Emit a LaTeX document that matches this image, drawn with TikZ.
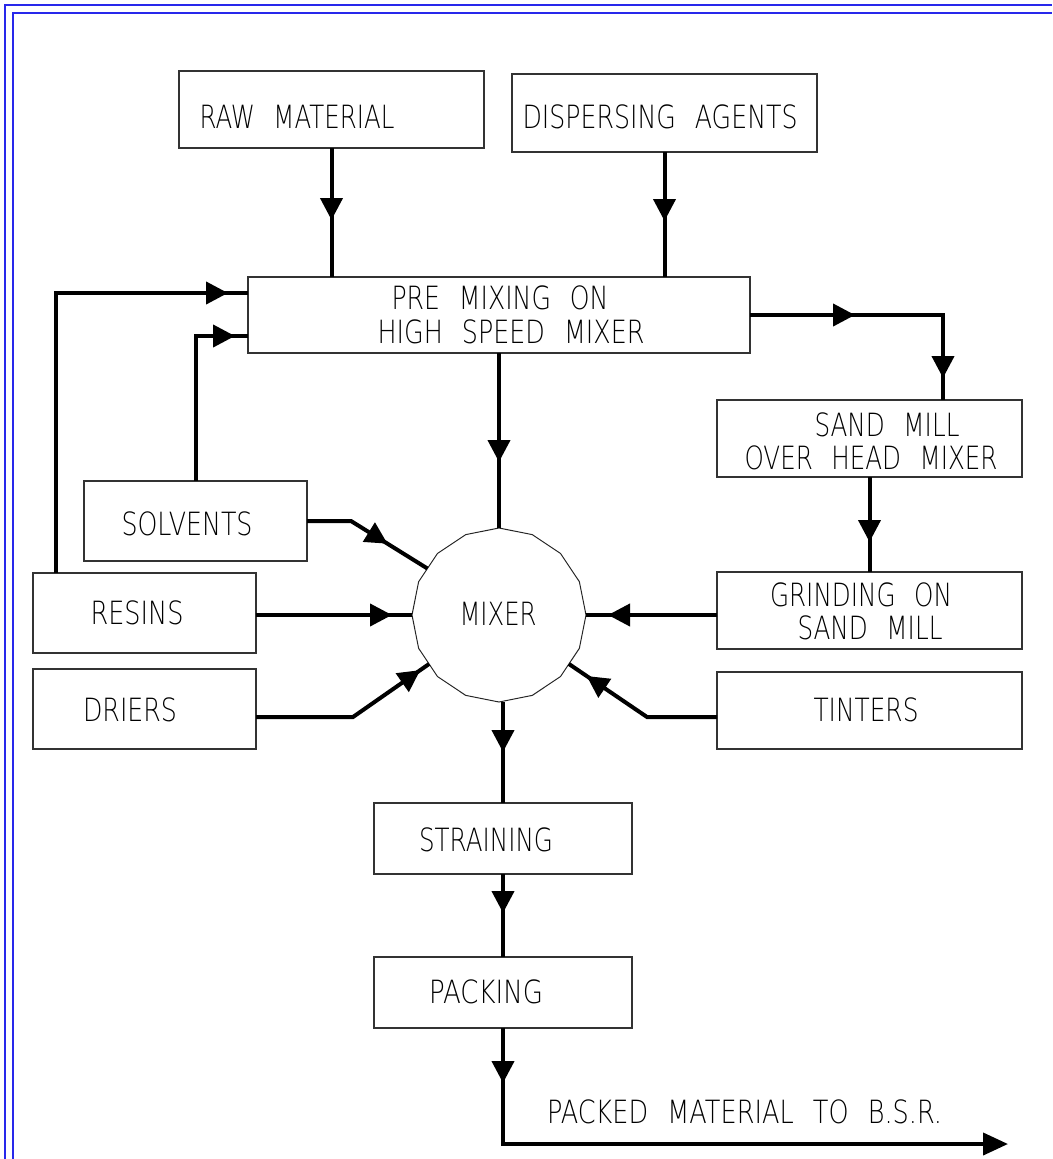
\documentclass[tikz,border=0pt]{standalone}
\usepackage{fontspec}
\usepackage{graphicx}
\newfontfamily\cadfont{DejaVu Sans ExtraLight}
\usetikzlibrary{arrows.meta,decorations.markings,shapes.geometric,calc}

\definecolor{framecol}{RGB}{40,40,235}
% condensed plotter-style lettering: text squeezed to a given width
\newcommand\cadtext[2]{\resizebox{#1pt}{\height}{\cadfont\fontsize{32}{32}\selectfont #2}}
\newcommand\wg{\hspace{0.75em}}

\tikzset{
  stepbox/.style={draw=black!80, line width=1.4pt, rectangle, inner sep=0pt, outer sep=0pt},
  lbl/.style={inner sep=0pt, outer sep=0pt},
  flow/.style={line width=4pt, black},
  headat/.style={postaction={decorate, decoration={markings,
      mark=at position #1pt with {\arrow{Triangle[length=22pt,width=22pt]}}}}},
  frameline/.style={line width=1.5pt, draw=framecol},
}

\begin{document}
\begin{tikzpicture}[x=1pt, y=-1pt]
\useasboundingbox (0,0) rectangle (1052,1159);

% drawing frame (double line, top and left)
\draw[frameline] (5,1159) -- (5,5) -- (1052,5);
\draw[frameline] (13,1159) -- (13,13) -- (1052,13);

% process boxes
\node[stepbox, minimum width=305pt, minimum height=77pt] (raw) at (331.5,109.5) {};
\node[stepbox, minimum width=305pt, minimum height=78pt] (disp) at (664.5,113) {};
\node[stepbox, minimum width=502pt, minimum height=76pt] (pre) at (499,315) {};
\node[stepbox, minimum width=305pt, minimum height=77pt] (sand) at (869.5,438.5) {};
\node[stepbox, minimum width=305pt, minimum height=77pt] (grind) at (869.5,610.5) {};
\node[stepbox, minimum width=305pt, minimum height=77pt] (tinters) at (869.5,710.5) {};
\node[stepbox, minimum width=223pt, minimum height=80pt] (solvents) at (195.5,521) {};
\node[stepbox, minimum width=223pt, minimum height=80pt] (resins) at (144.5,613) {};
\node[stepbox, minimum width=223pt, minimum height=80pt] (driers) at (144.5,709) {};
\node[stepbox, minimum width=258pt, minimum height=71pt] (strain) at (503,838.5) {};
\node[stepbox, minimum width=258pt, minimum height=71pt] (pack) at (503,992.5) {};
\node[regular polygon, regular polygon sides=16, shape border rotate=11.25,
      minimum size=174pt, draw=black!85, line width=1pt, inner sep=0pt, outer sep=0pt]
      (mixer) at (499,615) {};

% lettering
\node[lbl] (rawtxt) at (297,116.5) {\cadtext{195}{RAW\wg MATERIAL}};
\node[lbl] (disptxt) at (660,117) {\cadtext{275}{DISPERSING\wg AGENTS}};
\node[lbl] (pretxta) at (500,298) {\cadtext{217}{PRE\wg MIXING\wg ON}};
\node[lbl] (pretxtb) at (511,332) {\cadtext{267}{HIGH\wg SPEED\wg MIXER}};
\node[lbl] (sandtxta) at (887,425) {\cadtext{145}{SAND\wg MILL}};
\node[lbl] (sandtxtb) at (871,458) {\cadtext{253}{OVER\wg HEAD\wg MIXER}};
\node[lbl] (grindtxta) at (861,595) {\cadtext{182}{GRINDING\wg ON}};
\node[lbl] (grindtxtb) at (870,628) {\cadtext{145}{SAND\wg MILL}};
\node[lbl] (tintxt) at (866,710) {\cadtext{105}{TINTERS}};
\node[lbl] (soltxt) at (187,524) {\cadtext{131}{SOLVENTS}};
\node[lbl] (restxt) at (137,613) {\cadtext{93}{RESINS}};
\node[lbl] (drtxt) at (130,710) {\cadtext{94}{DRIERS}};
\node[lbl] (mixtxt) at (498,614) {\cadtext{77}{MIXER}};
\node[lbl] (strtxt) at (486,840) {\cadtext{134}{STRAINING}};
\node[lbl] (packtxt) at (486,992) {\cadtext{114}{PACKING}};
\node[lbl] (outtxt) at (744.5,1112) {\cadtext{395}{PACKED\wg MATERIAL\wg TO\wg B.S.R.}};

% feed lines
\draw[flow, headat=72] (raw.south) -- (raw.south |- pre.north);
\draw[flow, headat=69] (disp.south) -- (disp.south |- pre.north);

\coordinate (rtap) at ($(resins.north west)+(23,0)$);
\coordinate (preA) at ($(pre.north west)+(0,16)$);
\draw[flow, headat=452] (rtap) |- (preA);

\coordinate (preB) at ($(pre.south west)+(0,-17)$);
\draw[flow, headat=184.5] (solvents.north) |- (preB);

\coordinate (stap) at ($(sand.north east)+(-79,0)$);
\draw[flow, headat=105, headat=256] (pre.east) -| (stap);

\draw[flow, headat=109] (pre.south) -- (mixer.north);
\draw[flow, headat=65] (sand.south) -- (grind.north);
\draw[flow, headat=109] (mixer.east -| grind.west) -- (mixer.east);
\draw[flow, headat=136] (mixer.west -| resins.east) -- (mixer.west);

\coordinate (sbend) at ($(solvents.east)+(44,0)$);
\draw[flow, headat=87] (solvents.east) -- (sbend) -- (mixer.147);

\coordinate (dout) at ($(driers.east)+(0,8)$);
\coordinate (dbend) at ($(dout)+(97,0)$);
\draw[flow, headat=179] (dout) -- (dbend) -- (mixer.215);

\coordinate (tout) at ($(tinters.west)+(0,6.5)$);
\coordinate (tbend) at ($(tout)+(-70,0)$);
\draw[flow, headat=143] (tout) -- (tbend) -- (mixer.325);

% product line
\draw[flow, headat=50] (strain.north |- mixer.south) -- (strain.north);
\draw[flow, headat=39] (strain.south) -- (pack.north);
\coordinate (outend) at (1008,1144);
\draw[flow, headat=55, -{Triangle[length=25pt,width=22pt]}] (pack.south) |- (outend);
\end{tikzpicture}
\end{document}
